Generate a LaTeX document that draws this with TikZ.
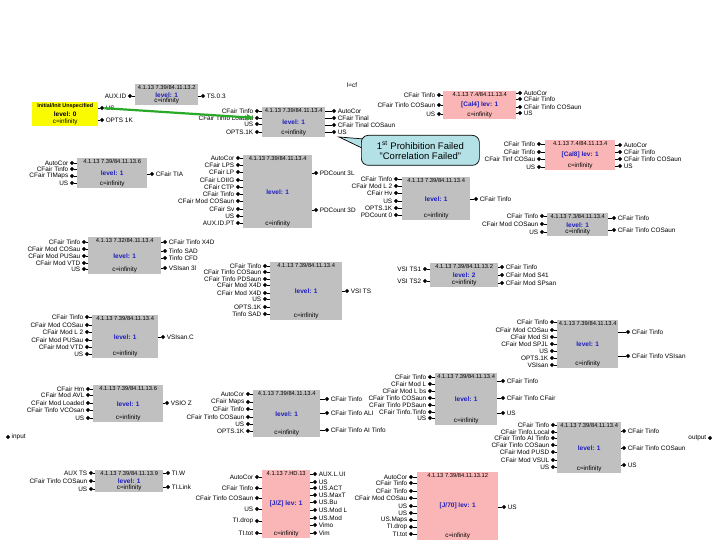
\documentclass[tikz,border=0pt]{standalone}
\usepackage{fontspec}
\setmainfont{Liberation Sans}
\usetikzlibrary{shapes.geometric,arrows.meta,positioning}

\definecolor{boxgray}{RGB}{192,192,192}
\definecolor{boxpink}{RGB}{250,182,182}
\definecolor{boxyel}{RGB}{250,250,0}
\definecolor{lvlblue}{RGB}{30,30,190}
\definecolor{arrgreen}{RGB}{40,170,40}
\definecolor{calblue}{RGB}{180,225,230}

% box: name, style, x, y, width, height, title, level, bottom line
\newcommand\blk[9]{%
  \node[#2,minimum width=#5pt,minimum height=#6pt,anchor=north west] (#1) at (#3,#4) {};
  \node[ttl,below=0.8pt of #1.north] (#1-t) {#7};
  \node[lvl] (#1-v) at (#1.center) {#8};
  \node[btm,above=0.8pt of #1.south] (#1-b) {#9};
}
% ports: box name, x of the diamonds, list of y/label
\newcommand\inports[3]{%
  \foreach \py/\plab [count=\k] in {#3}{%
    \node[pdot] (#1-l\k) at (#2,\py) {};
    \node[plab,left=0.8pt of #1-l\k] (#1-ll\k) {\plab};
    \draw[pline] (#1-l\k) -- (#1-l\k -| #1.west);
  }}
\newcommand\outports[3]{%
  \foreach \py/\plab [count=\k] in {#3}{%
    \node[pdot] (#1-r\k) at (#2,\py) {};
    \node[plab,right=0.8pt of #1-r\k] (#1-rl\k) {\plab};
    \draw[pline] (#1.east |- #1-r\k) -- (#1-r\k);
  }}

\begin{document}
\begin{tikzpicture}[x=1pt,y=-1pt,
  gbox/.style={fill=boxgray,inner sep=0},
  pbox/.style={fill=boxpink,inner sep=0},
  ybox/.style={fill=boxyel,inner sep=0},
  ttl/.style={font=\fontsize{5.8}{5.8}\selectfont,inner sep=0.3pt},
  btm/.style={font=\fontsize{6.3}{6.3}\selectfont,inner sep=0.3pt},
  lvl/.style={font=\bfseries\fontsize{6.5}{6.5}\selectfont,text=lvlblue,inner sep=0.3pt},
  pdot/.style={diamond,fill=black,inner sep=0,minimum size=4.5pt},
  plab/.style={font=\fontsize{6.4}{6.4}\selectfont,inner sep=0.3pt},
  pline/.style={line width=0.7pt},
  garrow/.style={draw=arrgreen,line width=2.2pt,-{Latex[length=8pt,width=7pt]}},
  callout/.style={draw=black,line width=0.7pt,fill=calblue,rounded corners=7pt,
    minimum width=118pt,minimum height=30pt,align=center,
    font=\fontsize{9.5}{10.5}\selectfont,inner sep=1pt}]
\useasboundingbox (0,0) rectangle (720,540);

%Row 1
\blk{yel}{ybox}{32}{102}{66}{24}{\bfseries\fontsize{5.4}{5.4}\selectfont Initial/Init Unspecified}{\color{black}level: 0}{c=infinity}
\outports{yel}{102}{108/US, 120/OPTS 1K}

\blk{b2}{gbox}{135}{84}{63}{21}{4.1.13 7.39/84.11.13.2}{level: 1}{c=infinity}
\inports{b2}{130}{96/AUX.ID}
\outports{b2}{203}{96/TS.0.3}

\node[plab] (tcf) at (352,85) {l=cf};

\blk{b3}{gbox}{262}{107}{63}{30}{4.1.13 7.39/84.11.13.4}{level: 1}{c=infinity}
\inports{b3}{257}{111/CFair Tinfo, 118/CFair Tinfo Loaded, 124/US, 132/OPTS.1K}
\outports{b3}{334}{111/AutoCor, 118/CFair Tinal, 125/CFair Tinal COSaun, 132/US}

\blk{b5}{pbox}{443}{91}{73}{28}{4.1.13 7.4/84.11.13.4}{[Cal4] lev: 1}{c=infinity}
\inports{b5}{439}{95/CFair Tinfo, 105/CFair Tinfo COSaun, 114/US}
\outports{b5}{520}{93/AutoCor, 99/CFair Tinfo, 107/CFair Tinfo COSaun, 113/US}

%Callout
\coordinate (calt) at (339,137);
\coordinate (cala) at (364,139);
\coordinate (calb) at (364,149);
\filldraw[fill=calblue,draw=black,line width=0.7pt] (calt) -- (cala) -- (calb) -- cycle;
\node[callout,anchor=north west] (cal) at (361,135) {1\textsuperscript{st} Prohibition Failed\\"Correlation Failed"};
\fill[calblue] ([xshift=-1pt,yshift=-0.6pt]cala) rectangle ([xshift=2pt,yshift=0.6pt]calb);

\draw[garrow] (yel-r1) -- (b3-l2);

%Row 2
\blk{b6}{pbox}{545}{140}{70}{30}{4.1.13 7.4/84.11.13.4}{[Cal8] lev: 1}{c=infinity}
\inports{b6}{539}{144/CFair Tinfo, 152/CFair Tinfo, 159/CFair Tinf COSau, 167/US}
\outports{b6}{620}{145/AutoCor, 152/CFair Tinfo, 159/CFair Tinfo COSaun, 166/US}

\blk{b7}{gbox}{77}{158}{70}{30}{4.1.13 7.39/84.11.13.6}{level: 1}{c=infinity}
\inports{b7}{72}{163/AutoCor, 169/CFair Tinfo, 176/CFair TIMaps, 183/US}
\outports{b7}{152}{174/CFair TIA}

\blk{b8}{gbox}{243}{155}{69}{73}{4.1.13 7.39/84.11.13.4}{level: 1}{c=infinity}
\inports{b8}{238}{158/AutoCor, 165/CFair LPS, 172/CFair LP, 180/CFair LOIIG, 187/CFair CTP, 194/CFair Tinfo, 201/CFair Mod COSaun, 209/CFair Sv, 216/US, 223/AUX.ID.PT}
\outports{b8}{316}{173/PDCount 3L, 210/PDCount 3D}

\blk{b9}{gbox}{402}{177}{68}{43}{4.1.13 7.39/84.11.13.4}{level: 1}{c=infinity}
\inports{b9}{396}{179/CFair Tinfo, 186/CFair Mod L 2, 193/CFair Hv, 201/US, 208/OPTS.1K, 215/PDCount 0}
\outports{b9}{476}{199/CFair Tinfo}

\blk{b10}{gbox}{547}{213}{61}{23}{4.1.13 7.3/84.11.13.4}{level: 1}{c=infinity}
\inports{b10}{542}{216/CFair Tinfo, 224/CFair Mod COSaun, 232/US}
\outports{b10}{614}{218/CFair Tinfo, 230/CFair Tinfo COSaun}

%Row 3
\blk{b11}{gbox}{88}{237}{73}{37}{4.1.13 7.32/84.11.13.4}{level: 1}{c=infinity}
\inports{b11}{84}{242/CFair Tinfo, 249/CFair Mod COSau, 256/CFair Mod PUSau, 263/CFair Mod VTD, 269/US}
\outports{b11}{165}{242/CFair Tinfo X4D, 251/Tinfo SAD, 258/Tinfo CFD, 268/VSIsan 3l}

\blk{b12}{gbox}{270}{262}{72}{58}{4.1.13 7.39/84.11.13.4}{level: 1}{c=infinity}
\inports{b12}{265}{266/CFair Tinfo, 272/CFair Tinfo COSaun, 279/CFair Tinfo PDSaun, 285/CFair Mod X4D, 293/CFair Mod X4D, 299/US, 307/OPTS.1K, 314/Tinfo SAD}
\outports{b12}{347}{291/VSI TS}

\blk{b13}{gbox}{430}{263}{68}{24}{4.1.13 7.39/84.11.13.2}{level: 2}{c=infinity}
\inports{b13}{425}{269/VSI TS1, 281/VSI TS2}
\outports{b13}{502}{267/CFair Tinfo, 275/CFair Mod S41, 283/CFair Mod SPsan}

\blk{b14}{gbox}{92}{315}{66}{43}{4.1.13 7.39/84.11.13.4}{level: 1}{c=infinity}
\inports{b14}{87}{317/CFair Tinfo, 325/CFair Mod COSau, 332/CFair Mod L 2, 340/CFair Mod PUSau, 347/CFair Mod VTD, 354/US}
\outports{b14}{163}{337/VSIsan.C}

\blk{b15}{gbox}{557}{320}{61}{48}{4.1.13 7.39/84.11.13.4}{level: 1}{c=infinity}
\inports{b15}{552}{322/CFair Tinfo, 330/CFair Mod COSau, 337/CFair Mod SI, 344/CFair Mod SPJL, 351/US, 358/OPTS.1K, 365/VSIsan}
\outports{b15}{628}{332/CFair Tinfo, 356/CFair Tinfo VSIsan}

%Row 4
\blk{b16}{gbox}{93}{385}{70}{37}{4.1.13 7.39/84.11.13.6}{level: 1}{c=infinity}
\inports{b16}{88}{389/CFair Hm, 395/CFair Mod AVL, 403/CFair Mod Loaded, 410/CFair Tinfo VCOsan, 418/US}
\outports{b16}{167}{403/VSIO Z}

\blk{b17}{gbox}{253}{390}{67}{47}{4.1.13 7.39/84.11.13.4}{level: 1}{c=infinity}
\inports{b17}{248}{394/AutoCor, 402/CFair Maps, 409/CFair Tinfo, 417/CFair Tinfo COSaun, 424/US, 431/OPTS.1K}
\outports{b17}{327}{399/CFair Tinfo, 413/CFair Tinfo ALI, 430/CFair Tinfo AI Tinfo}

\blk{b18}{gbox}{435}{373}{62}{52}{4.1.13 7.39/84.11.13.4}{level: 1}{c=infinity}
\inports{b18}{430}{377/CFair Tinfo, 384/CFair Mod L, 391/CFair Mod L bs, 398/CFair Tinfo COSaun, 405/CFair Tinfo PDSaun, 412/CFair Tinfo.Tinfo, 418/US}
\outports{b18}{503}{381/CFair Tinfo, 398/CFair Tinfo CFair, 413/US}

\blk{b19}{gbox}{557}{422}{64}{51}{4.1.13 7.39/84.11.13.4}{level: 1}{c=infinity}
\inports{b19}{553}{425/CFair Tinfo, 432/CFair Tinfo.Local, 438/CFair Tinfo AI Tinfo, 445/CFair Tinfo COSaun, 452/CFair Mod PUSD, 460/CFair Mod VSUL, 467/US}
\outports{b19}{624}{431/CFair Tinfo, 448/CFair Tinfo COSaun, 465/US}

\node[pdot] (inp) at (8,437) {};
\node[plab,right=0.8pt of inp] (inp-l) {input};
\node[pdot] (outp) at (710,438) {};
\node[plab,left=0.8pt of outp] (outp-l) {output};

%Row 5
\blk{b20}{gbox}{95}{470}{68}{22}{4.1.13 7.39/84.11.13.9}{level: 1}{c=infinity}
\inports{b20}{91}{473/AUX TS, 481/CFair Tinfo COSaun, 489/US}
\outports{b20}{168}{473/TI.W, 487/TI.Link}

\blk{b21}{pbox}{262}{470}{48}{68}{4.1.13 7.HD.13}{[J/Z] lev: 1}{c=infinity}
\inports{b21}{257}{477/AutoCor, 488/CFair Tinfo, 498/CFair Tinfo COSaun, 509/US, 521/TI.drop, 533/TI.tot}
\outports{b21}{315}{474/AUX.L.UI, 482/US, 488/US.ACT, 495/US.MaxT, 502/US.Bu, 510/US.Mod L, 518/US.Mod, 525/Vimo, 533/Vim}

\blk{b22}{pbox}{417}{472}{81}{68}{4.1.13 7.39/84.11.13.12}{[J/70] lev: 1}{c=infinity}
\inports{b22}{411}{477/AutoCor, 483/CFair Tinfo, 491/CFair Tinfo, 498/CFair Mod COSau, 506/US, 513/US, 520/US.Maps, 527/TI.drop, 534/TI.tot}
\outports{b22}{504}{507/US}

\end{tikzpicture}
\end{document}
